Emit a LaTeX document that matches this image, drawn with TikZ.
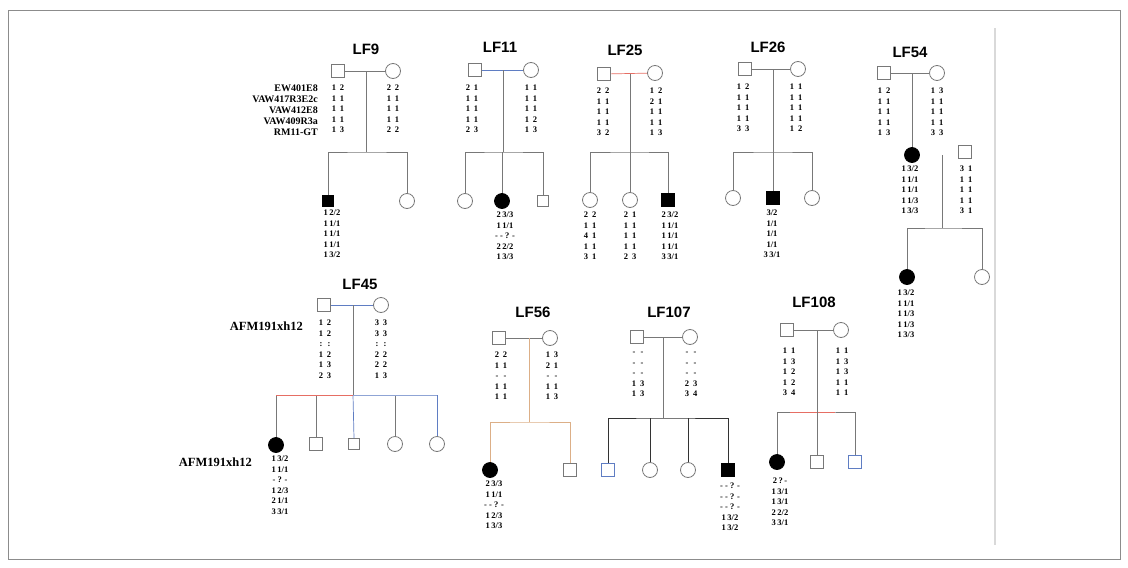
\documentclass[tikz,border=0pt]{standalone}
\usepackage{fontspec}
\setmainfont{Liberation Serif}
\setsansfont{Liberation Sans}
\usetikzlibrary{calc}
\definecolor{lred}{RGB}{230,110,100}
\definecolor{lblue}{RGB}{95,125,195}
\definecolor{ltan}{RGB}{220,175,135}
\definecolor{lgray}{RGB}{120,120,120}
\begin{document}
\begin{tikzpicture}[x=1pt,y=-1pt,
  male/.style={draw=lgray,line width=0.8pt,rectangle,minimum size=13pt,inner sep=0pt},
  female/.style={draw=lgray,line width=0.8pt,circle,minimum size=15pt,inner sep=0pt},
  affm/.style={male,fill=black,draw=black},
  afff/.style={female,fill=black,draw=black},
  title/.style={font=\sffamily\bfseries\fontsize{15}{15}\selectfont,inner sep=0pt},
  geno/.style={font=\bfseries\fontsize{8.5}{10.5}\selectfont,align=center,inner sep=0pt,anchor=north},
  mk/.style={font=\bfseries\fontsize{10}{11}\selectfont,inner sep=0pt,align=right,anchor=north east},
  mkb/.style={font=\bfseries\fontsize{12.5}{13}\selectfont,inner sep=0pt,anchor=east},
  ln/.style={draw=lgray,line width=0.7pt},
]
\useasboundingbox (0,0) rectangle (1128,568);
\draw[draw=black!45,line width=1pt] (8,10) rectangle (1120,559);
\coordinate (vt) at (995,28); \coordinate (vb) at (995,545);
\draw[draw=black!15,line width=1.2pt] (vt) -- (vb);

% ---------------- LF9
\node[title] (t9) at (366,49) {LF9};
\node[male] (f9) at (338,71) {};
\node[female] (m9) at (393,71) {};
\coordinate (d9) at (366,71); \coordinate (s9) at (366,152);
\node[affm,minimum size=11pt] (c9a) at (328,201) {};
\node[female] (c9b) at (407,201) {};
\draw[ln] (f9) -- (m9);
\draw[ln] (d9) -- (s9);
\draw[ln] (c9a.north) |- (s9) -| (c9b.north);
\node[mk] (k9) at (318,85) {EW401E8\\VAW417R3E2c\\VAW412E8\\VAW409R3a\\RM11-GT};
\node[geno] (g9f) at (338,85) {1\hspace{4pt}2\\1\hspace{4pt}1\\1\hspace{4pt}1\\1\hspace{4pt}1\\1\hspace{4pt}3};
\node[geno] (g9m) at (393,85) {2\hspace{4pt}2\\1\hspace{4pt}1\\1\hspace{4pt}1\\1\hspace{4pt}1\\2\hspace{4pt}2};
\node[geno] (g9c) at (332,210) {1\,2/2\\1\,1/1\\1\,1/1\\1\,1/1\\1\,3/2};

% ---------------- LF11
\node[title] (t11) at (500,47) {LF11};
\node[male] (f11) at (475,70) {};
\node[female] (m11) at (531,70) {};
\coordinate (d11) at (503,70); \coordinate (s11) at (503,152);
\node[female] (c11a) at (465,201) {};
\node[afff] (c11b) at (502,201) {};
\node[male,minimum size=11pt] (c11c) at (543,201) {};
\draw[draw=lblue,line width=0.7pt] (f11) -- (m11);
\draw[ln] (d11) -- (s11);
\draw[ln] (c11a.north) |- (s11) -| (c11c.north);
\draw[ln] (c11b.north) -- (c11b.north |- s11);
\node[geno] (g11f) at (472,85) {2\hspace{4pt}1\\1\hspace{4pt}1\\1\hspace{4pt}1\\1\hspace{4pt}1\\2\hspace{4pt}3};
\node[geno] (g11m) at (531,85) {1\hspace{4pt}1\\1\hspace{4pt}1\\1\hspace{4pt}1\\1\hspace{4pt}2\\1\hspace{4pt}3};
\node[geno] (g11c) at (505,212) {2\,3/3\\1\,1/1\\- - ? -\\2\,2/2\\1\,3/3};

% ---------------- LF25
\node[title] (t25) at (625,50) {LF25};
\node[male] (f25) at (604,74) {};
\node[female] (m25) at (655,73) {};
\coordinate (d25) at (630,74); \coordinate (s25) at (630,152);
\node[female] (c25a) at (590,200) {};
\node[female] (c25b) at (630,200) {};
\node[affm] (c25c) at (668,200) {};
\draw[draw=lred,line width=0.7pt] (f25) -- (m25);
\draw[ln] (d25) -- (s25);
\draw[ln] (c25a.north) |- (s25) -| (c25c.north);
\draw[ln] (c25b.north) -- (s25);
\node[geno] (g25f) at (603,88) {2\hspace{4pt}2\\1\hspace{4pt}1\\1\hspace{4pt}1\\1\hspace{4pt}1\\3\hspace{4pt}2};
\node[geno] (g25m) at (656,88) {1\hspace{4pt}2\\2\hspace{4pt}1\\1\hspace{4pt}1\\1\hspace{4pt}1\\1\hspace{4pt}3};
\node[geno] (g25a) at (590,212) {2\hspace{4pt}2\\1\hspace{4pt}1\\4\hspace{4pt}1\\1\hspace{4pt}1\\3\hspace{4pt}1};
\node[geno] (g25b) at (630,212) {2\hspace{4pt}1\\1\hspace{4pt}1\\1\hspace{4pt}1\\1\hspace{4pt}1\\2\hspace{4pt}3};
\node[geno] (g25c) at (670,212) {2\,3/2\\1\,1/1\\1\,1/1\\1\,1/1\\3\,3/1};

% ---------------- LF26
\node[title] (t26) at (768,47) {LF26};
\node[male] (f26) at (745,69) {};
\node[female] (m26) at (798,69) {};
\coordinate (d26) at (773,69); \coordinate (s26) at (773,152);
\node[female] (c26a) at (733,198) {};
\node[affm] (c26b) at (773,198) {};
\node[female] (c26c) at (812,198) {};
\draw[ln] (f26) -- (m26);
\draw[ln] (d26) -- (s26);
\draw[ln] (c26a.north) |- (s26) -| (c26c.north);
\draw[ln] (c26b.north) -- (s26);
\node[geno] (g26f) at (743,84) {1\hspace{4pt}2\\1\hspace{4pt}1\\1\hspace{4pt}1\\1\hspace{4pt}1\\3\hspace{4pt}3};
\node[geno] (g26m) at (796,84) {1\hspace{4pt}1\\1\hspace{4pt}1\\1\hspace{4pt}1\\1\hspace{4pt}1\\1\hspace{4pt}2};
\node[geno] (g26c) at (772,210) {3/2\\1/1\\1/1\\1/1\\3\,3/1};

% ---------------- LF54
\node[title] (t54) at (910,52) {LF54};
\node[male] (f54) at (884,73) {};
\node[female] (m54) at (937,73) {};
\coordinate (d54) at (912,73);
\node[afff] (a54) at (912,155) {};
\node[male] (sp54) at (965,152) {};
\coordinate (e54) at (942,155); \coordinate (s54) at (942,228);
\node[afff] (c54a) at (907,277) {};
\node[female] (c54b) at (982,277) {};
\draw[ln] (f54) -- (m54);
\draw[ln] (d54) -- (a54.north);
\draw[ln] (e54) -- (s54);
\draw[ln] (c54a.north) |- (s54) -| (c54b.north);
\node[geno] (g54f) at (884,88) {1\hspace{4pt}2\\1\hspace{4pt}1\\1\hspace{4pt}1\\1\hspace{4pt}1\\1\hspace{4pt}3};
\node[geno] (g54m) at (937,88) {1\hspace{4pt}3\\1\hspace{4pt}1\\1\hspace{4pt}1\\1\hspace{4pt}1\\3\hspace{4pt}3};
\node[geno] (g54a) at (910,166) {1\,3/2\\1\,1/1\\1\,1/1\\1\,1/3\\1\,3/3};
\node[geno] (g54s) at (966,166) {3\hspace{4pt}1\\1\hspace{4pt}1\\1\hspace{4pt}1\\1\hspace{4pt}1\\3\hspace{4pt}1};
\node[geno] (g54c) at (906,290) {1\,3/2\\1\,1/1\\1\,1/3\\1\,1/3\\1\,3/3};

% ---------------- LF45
\node[title] (t45) at (360,284) {LF45};
\node[male] (f45) at (324,305) {};
\node[female] (m45) at (381,305) {};
\coordinate (d45) at (353,305); \coordinate (s45) at (353,395);
\node[afff] (c45a) at (276,445) {};
\node[male] (c45b) at (316,444) {};
\node[male,minimum size=11pt] (c45c) at (354,444) {};
\node[female] (c45d) at (395,444) {};
\node[female] (c45e) at (437,444) {};
\draw[draw=lblue,line width=0.7pt] (f45) -- (m45);
\draw[ln] (d45) -- (s45);
\draw[ln] (c45a.north) -- (c45a.north |- s45);
\draw[ln] (c45b.north) -- (c45b.north |- s45);
\draw[draw=lblue,line width=0.7pt] (c45c.north) -- (s45);
\draw[ln] (c45d.north) -- (c45d.north |- s45);
\draw[draw=lblue,line width=0.7pt] (c45e.north) -- (c45e.north |- s45);
\draw[draw=lred,line width=0.9pt] (c45a.north |- s45) -- (s45);
\draw[draw=lblue!70,line width=0.8pt] (s45) -- (c45e.north |- s45);
\node[mkb] (k45a) at (303,326) {AFM191xh12};
\node[mkb] (k45b) at (252,462) {AFM191xh12};
\node[geno] (g45f) at (325,320) {1\hspace{4pt}2\\1\hspace{4pt}2\\:\hspace{5pt}:\\1\hspace{4pt}2\\1\hspace{4pt}3\\2\hspace{4pt}3};
\node[geno] (g45m) at (381,320) {3\hspace{4pt}3\\3\hspace{4pt}3\\:\hspace{5pt}:\\2\hspace{4pt}2\\2\hspace{4pt}2\\1\hspace{4pt}3};
\node[geno] (g45c) at (280,456) {1\,3/2\\1\,1/1\\- ? -\\1\,2/3\\2\,1/1\\3\,3/1};

% ---------------- LF56
\node[title] (t56) at (533,312) {LF56};
\node[male] (f56) at (499,338) {};
\node[female] (m56) at (550,338) {};
\coordinate (d56) at (529,338); \coordinate (s56) at (529,422);
\node[afff] (c56a) at (490,470) {};
\node[male] (c56b) at (570,470) {};
\draw[ln] (f56) -- (m56);
\draw[draw=ltan,line width=0.7pt] (d56) -- (s56);
\draw[draw=ltan,line width=0.9pt] (c56a.north) |- (s56) -| (c56b.north);
\node[geno] (g56f) at (501,352) {2\hspace{4pt}2\\1\hspace{4pt}1\\-\hspace{5pt}-\\1\hspace{4pt}1\\1\hspace{4pt}1};
\node[geno] (g56m) at (552,352) {1\hspace{4pt}3\\2\hspace{4pt}1\\-\hspace{5pt}-\\1\hspace{4pt}1\\1\hspace{4pt}3};
\node[geno] (g56c) at (494,481) {2\,3/3\\1\,1/1\\- - ? -\\1\,2/3\\1\,3/3};

% ---------------- LF107
\node[title] (t107) at (669,312) {LF107};
\node[male] (f107) at (637,337) {};
\node[female] (m107) at (690,337) {};
\coordinate (d107) at (663,337); \coordinate (s107) at (663,418);
\node[male,draw=lblue] (c107a) at (608,470) {};
\node[female] (c107b) at (650,470) {};
\node[female] (c107c) at (688,470) {};
\node[affm] (c107d) at (728,470) {};
\draw[ln] (f107) -- (m107);
\draw[ln] (d107) -- (s107);
\draw[draw=black!80,line width=0.8pt] (c107a.north) |- (s107) -| (c107d.north);
\draw[draw=black!80,line width=0.8pt] (c107b.north) -- (c107b.north |- s107);
\draw[draw=black!80,line width=0.8pt] (c107c.north) -- (c107c.north |- s107);
\node[geno] (g107f) at (638,352) {-\hspace{5pt}-\\-\hspace{5pt}-\\-\hspace{5pt}-\\1\hspace{4pt}3\\1\hspace{4pt}3};
\node[geno] (g107m) at (691,352) {-\hspace{5pt}-\\-\hspace{5pt}-\\-\hspace{5pt}-\\2\hspace{4pt}3\\3\hspace{4pt}4};
\node[geno] (g107c) at (730,483) {- - ? -\\- - ? -\\- - ? -\\1\,3/2\\1\,3/2};

% ---------------- LF108
\node[title] (t108) at (814,302) {LF108};
\node[male] (f108) at (787,330) {};
\node[female] (m108) at (841,330) {};
\coordinate (d108) at (817,330); \coordinate (s108) at (817,412);
\node[afff] (c108a) at (777,462) {};
\node[male] (c108b) at (817,462) {};
\node[male,draw=lblue] (c108c) at (855,462) {};
\draw[ln] (f108) -- (m108);
\draw[ln] (d108) -- (s108);
\draw[ln] (c108a.north) |- (s108) -| (c108c.north);
\draw[draw=lred,line width=0.9pt] ($(s108)+(-27,0)$) -- ($(s108)+(18,0)$);
\draw[ln] (c108b.north) -- (s108);
\node[geno] (g108f) at (789,348) {1\hspace{4pt}1\\1\hspace{4pt}3\\1\hspace{4pt}2\\1\hspace{4pt}2\\3\hspace{4pt}4};
\node[geno] (g108m) at (842,348) {1\hspace{4pt}1\\1\hspace{4pt}3\\1\hspace{4pt}3\\1\hspace{4pt}1\\1\hspace{4pt}1};
\node[geno] (g108c) at (780,478) {2\,?\,-\\1\,3/1\\1\,3/1\\2\,2/2\\3\,3/1};
\end{tikzpicture}
\end{document}
